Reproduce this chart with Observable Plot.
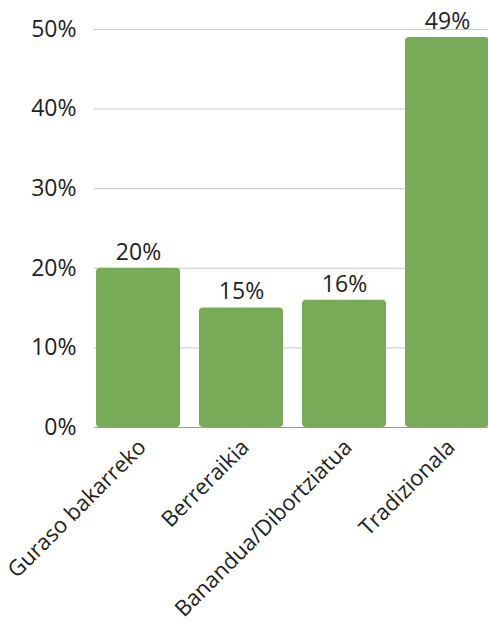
<!DOCTYPE html>
<html>
<head>
<meta charset="utf-8">
<script src="https://cdn.jsdelivr.net/npm/d3@7"></script>
<script src="https://cdn.jsdelivr.net/npm/@observablehq/plot@0.6"></script>
<style>
  html, body { margin: 0; padding: 0; background: #fff; overflow: hidden; }
  #chart { width: 488px; height: 625px; overflow: hidden; }
</style>
</head>
<body>
<div id="chart"></div>
<script>
const categories = ["Guraso bakarreko", "Berreraikia", "Banandua/Dibortziatua", "Tradizionala"];
const values = [20, 15, 16, 49];
const yTicks = [0, 10, 20, 30, 40, 50];

const data = categories.map((c, i) => ({category: c, value: values[i]}));

const font = "'Open Sans', Lato, sans-serif";

const plot = Plot.plot({
  width: 488,
  height: 625,
  marginTop: 29,
  marginBottom: 198,
  marginLeft: 94,
  marginRight: -3,
  style: {fontFamily: font, fontSize: "23px", color: "#222", background: "#fff"},
  x: {domain: categories, label: null, paddingInner: 0.18, paddingOuter: 0, axis: null},
  y: {domain: [0, 50], label: null, axis: null},
  marks: [
    Plot.gridY(yTicks, {stroke: "#c8c8c8", strokeOpacity: 1, strokeWidth: 1}),
    Plot.axisY(yTicks, {tickSize: 0, tickPadding: 18, tickFormat: d => d + "%", fontSize: 23, fill: "#222", label: null}),
    Plot.axisX({tickSize: 0, tickRotate: -45, tickPadding: 16, dx: 4, fontSize: 22, fill: "#222", label: null}),
    Plot.barY(data, {x: "category", y: "value", fill: "#78ab57", rx: 4}),
    Plot.ruleY([0], {stroke: "#999", strokeWidth: 1}),
    Plot.text(data, {x: "category", y: "value", text: d => d.value + "%", dy: -16, fontSize: 23, fill: "#222"})
  ]
});
plot.style.overflow = "hidden";
document.getElementById("chart").appendChild(plot);
</script>
</body>
</html>
